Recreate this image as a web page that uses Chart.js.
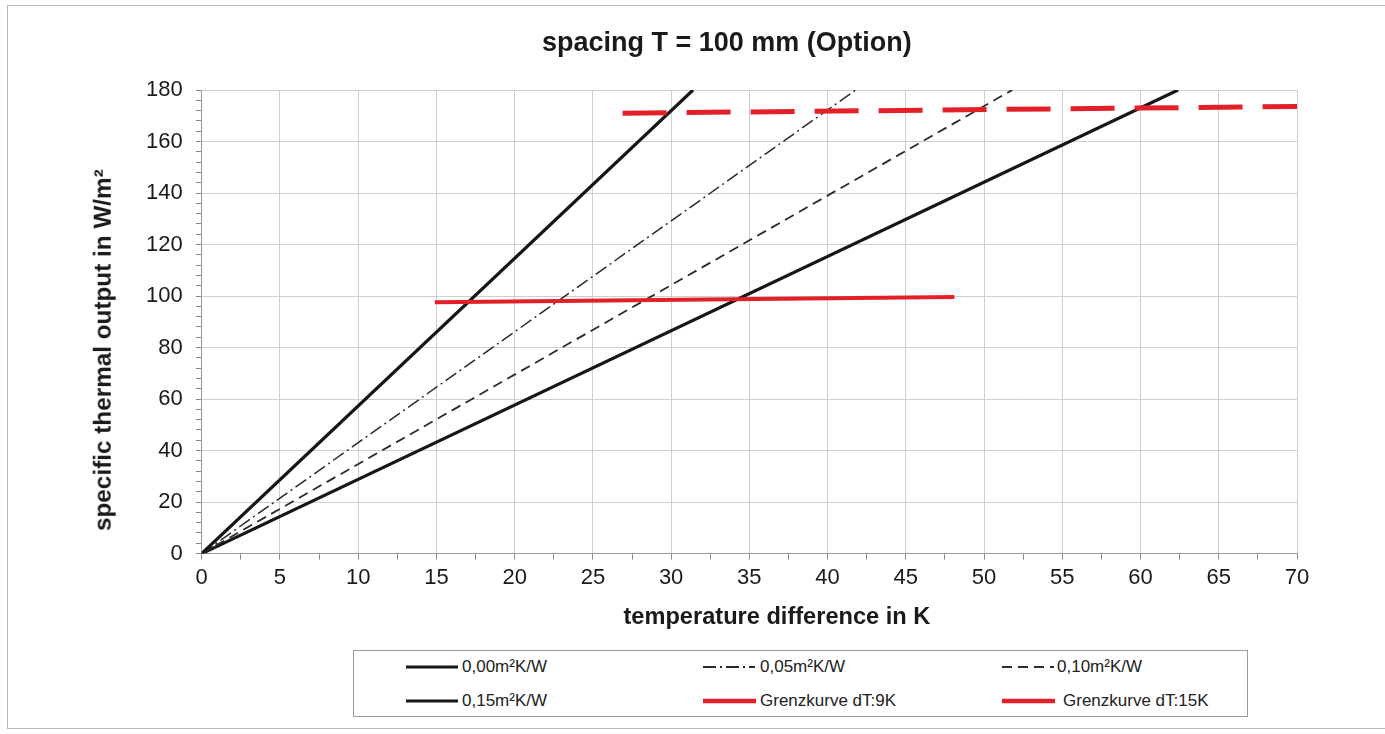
<!DOCTYPE html>
<html>
<head>
<meta charset="utf-8">
<script src="https://cdn.jsdelivr.net/npm/chart.js@4.4.1/dist/chart.umd.min.js"></script>
<style>
  html, body { margin: 0; padding: 0; background: #fff; }
  #wrap { position: relative; width: 1385px; height: 734px; overflow: hidden; font-family: "Liberation Sans", Arial, sans-serif; }
  #frame { position: absolute; left: 7px; top: 5px; width: 1380px; height: 724px; border: 1px solid #b8b8b8; box-sizing: border-box; }
  canvas { position: absolute; left: 0; top: 0; }
  .ttl { position: absolute; font-weight: bold; color: #1a1a1a; white-space: nowrap; transform-origin: center center; line-height: 1; }
  #legend { position: absolute; left: 353px; top: 650px; width: 895px; height: 67px; border: 1px solid #9a9a9a; box-sizing: border-box; background: #fff; }
  .item { position: absolute; font-size: 17px; color: #222; white-space: nowrap; }
  .item svg { position: absolute; }
  .item span { position: absolute; top: -10px; }
</style>
</head>
<body>
<div id="wrap">
  <div id="frame"></div>
  <canvas id="c" width="1385" height="734"></canvas>
  <div id="mainTitle" class="ttl" style="font-size:27px;">spacing T = 100 mm (Option)</div>
  <div id="xTitle" class="ttl" style="font-size:23.6px;">temperature difference in K</div>
  <div id="yTitle" class="ttl" style="font-size:24.3px;">specific thermal output in W/m²</div>
  <div id="legend"></div>
</div>
<script>
// ---- data ----
const xTickLabels = [0, 5, 10, 15, 20, 25, 30, 35, 40, 45, 50, 55, 60, 65, 70];
const yTickLabels = [0, 20, 40, 60, 80, 100, 120, 140, 160, 180];

const r000X = [0, 31.4];
const r000Y = [0, 180];
const r005X = [0, 41.8];
const r005Y = [0, 180];
const r010X = [0, 51.8];
const r010Y = [0, 180];
const r015X = [0, 62.4];
const r015Y = [0, 180];
const g9X = [14.9, 48.1];
const g9Y = [97.6, 99.6];
const g15X = [26.9, 70];
const g15Y = [171.0, 173.6];

const seriesNames = ["0,00m²K/W", "0,05m²K/W", "0,10m²K/W", "0,15m²K/W", "Grenzkurve dT:9K", "Grenzkurve dT:15K"];

function pts(xs, ys) { return xs.map((x, i) => ({ x: x, y: ys[i] })); }

const styles = [
  { color: '#161616', width: 3.2, dash: [] },
  { color: '#2a2a2a', width: 1.5, dash: [13, 4, 2, 4] },
  { color: '#2a2a2a', width: 1.8, dash: [10, 6] },
  { color: '#161616', width: 3.2, dash: [] },
  { color: '#e3202a', width: 4, dash: [] },
  { color: '#e3202a', width: 5, dash: [44, 20] }
];
const seriesData = [pts(r000X, r000Y), pts(r005X, r005Y), pts(r010X, r010Y), pts(r015X, r015Y), pts(g9X, g9Y), pts(g15X, g15Y)];

const datasets = seriesData.map((d, i) => ({
  label: seriesNames[i],
  data: d,
  showLine: true,
  borderColor: styles[i].color,
  backgroundColor: styles[i].color,
  borderWidth: styles[i].width,
  borderDash: styles[i].dash,
  borderCapStyle: 'butt',
  pointRadius: 0,
  tension: 0,
  order: i >= 4 ? 0 : 1,
  clip: 0
}));

const isMajor = (v, step) => Math.abs(v / step - Math.round(v / step)) < 1e-6;

new Chart(document.getElementById('c'), {
  type: 'scatter',
  data: { datasets: datasets },
  options: {
    responsive: false,
    animation: false,
    events: [],
    layout: { padding: { left: 133, right: 88, top: 90, bottom: 138 } },
    plugins: {
      legend: { display: false },
      tooltip: { enabled: false },
      title: { display: false }
    },
    scales: {
      x: {
        type: 'linear',
        min: 0, max: 70,
        border: { color: '#9a9a9a', width: 1 },
        grid: {
          color: (ctx) => isMajor(ctx.tick.value, 5) ? '#cfcfcf' : 'rgba(0,0,0,0)',
          tickColor: '#8a8a8a',
          tickLength: 6,
          lineWidth: 1
        },
        ticks: {
          stepSize: 2.5,
          maxTicksLimit: 100,
          autoSkip: false,
          maxRotation: 0,
          padding: 5,
          color: '#1a1a1a',
          font: { family: 'Liberation Sans', size: 22 },
          callback: (v) => (isMajor(v, 5) && xTickLabels.includes(Math.round(v))) ? String(Math.round(v)) : ''
        },
        title: { display: false }
      },
      y: {
        type: 'linear',
        min: 0, max: 180,
        border: { color: '#9a9a9a', width: 1 },
        grid: {
          color: (ctx) => isMajor(ctx.tick.value, 20) ? '#cfcfcf' : 'rgba(0,0,0,0)',
          tickColor: '#8a8a8a',
          tickLength: 6,
          lineWidth: 1
        },
        ticks: {
          stepSize: 4,
          maxTicksLimit: 100,
          autoSkip: false,
          padding: 13,
          color: '#1a1a1a',
          font: { family: 'Liberation Sans', size: 22 },
          callback: (v) => (isMajor(v, 20) && yTickLabels.includes(Math.round(v))) ? String(Math.round(v)) : ''
        },
        title: { display: false }
      }
    }
  }
});

// ---- titles (real text, centred on measured positions) ----
function place(id, cx, cy, rot) {
  const el = document.getElementById(id);
  const w = el.offsetWidth, h = el.offsetHeight;
  el.style.left = (cx - w / 2) + 'px';
  el.style.top = (cy - h / 2) + 'px';
  if (rot) el.style.transform = 'rotate(' + rot + 'deg)';
}
place('mainTitle', 727, 42, 0);
place('xTitle', 777, 617, 0);
place('yTitle', 103, 350, -90);

// ---- HTML legend (samples use the same style definitions) ----
const legendPos = [
  { lx: 52, tx: 108, y: 16 },
  { lx: 349, tx: 406, y: 16 },
  { lx: 648, tx: 703, y: 16 },
  { lx: 52, tx: 108, y: 50 },
  { lx: 349, tx: 406, y: 50 },
  { lx: 648, tx: 709, y: 50 }
];
const legendEl = document.getElementById('legend');
seriesNames.forEach((name, i) => {
  const p = legendPos[i];
  const s = styles[i];
  const item = document.createElement('div');
  item.className = 'item';
  item.style.left = '0px';
  item.style.top = p.y + 'px';
  const len = i >= 4 ? 53 : 52;
  const dash = i === 5 ? '' : (s.dash.length ? s.dash.join(' ') : '');
  const w = i >= 4 ? 4.5 : (i === 0 || i === 3 ? 3 : 2);
  item.innerHTML =
    '<svg width="' + (len + 2) + '" height="10" style="left:' + p.lx + 'px;top:-5px">' +
    '<line x1="0" y1="5" x2="' + len + '" y2="5" stroke="' + s.color + '" stroke-width="' + w + '"' +
    (dash ? ' stroke-dasharray="' + dash + '"' : '') + '/></svg>' +
    '<span style="left:' + p.tx + 'px">' + name + '</span>';
  legendEl.appendChild(item);
});
</script>
</body>
</html>
